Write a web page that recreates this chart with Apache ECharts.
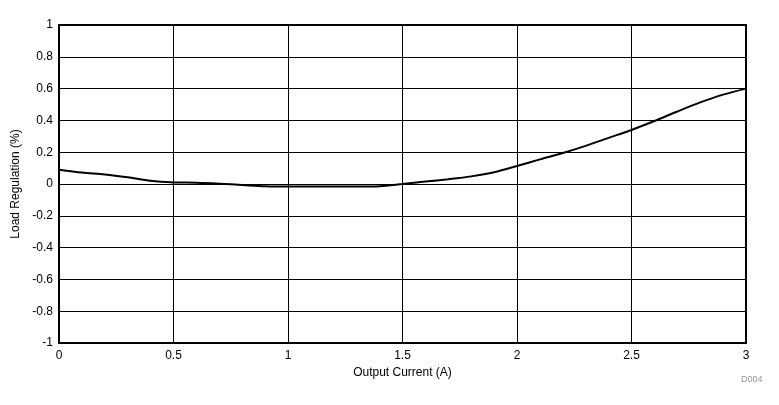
<!DOCTYPE html>
<html><head><meta charset="utf-8">
<script src="https://cdn.jsdelivr.net/npm/echarts@6/dist/echarts.min.js"></script>
<style>html,body{margin:0;padding:0;background:#fff}#c{width:779px;height:405px}</style>
</head><body><div id="c"></div>
<script>
const currentA = [0,0.1,0.2,0.3,0.4,0.5,0.6,0.7,0.8,0.9,1.0,1.1,1.2,1.3,1.4,1.5,1.6,1.7,1.8,1.9,2.0,2.1,2.2,2.3,2.4,2.5,2.6,2.7,2.8,2.9,3.0];
const regulation = [0.09,0.072,0.06,0.042,0.02,0.01,0.008,0.002,-0.006,-0.014,-0.016,-0.016,-0.016,-0.016,-0.014,0.0,0.015,0.03,0.048,0.074,0.113,0.155,0.195,0.24,0.29,0.34,0.396,0.456,0.513,0.562,0.6];
const xTitle = 'Output Current (A)';
const yTitle = 'Load Regulation (%)';
const note = 'D004';

const chart = echarts.init(document.getElementById('c'));
const font = 'Liberation Sans, Arial, sans-serif';
chart.setOption({
  animation:false,
  grid:{left:59,right:33,top:25,bottom:62,show:true,borderColor:'#000',borderWidth:2,backgroundColor:'transparent'},
  graphic:[{type:'text',left:741,top:375,style:{text:note,fill:'#999',font:'9px '+font}}],
  xAxis:{type:'value',min:0,max:3,interval:0.5,name:xTitle,nameLocation:'middle',nameGap:24,
    nameTextStyle:{color:'#000',fontFamily:font,fontSize:12},
    axisLine:{show:true,onZero:false,lineStyle:{color:'#000',width:2}},axisTick:{show:false},
    axisLabel:{color:'#000',fontFamily:font,fontSize:12,margin:7},
    splitLine:{show:true,lineStyle:{color:'#000',width:1}}},
  yAxis:{type:'value',min:-1,max:1,interval:0.2,name:yTitle,nameLocation:'middle',nameGap:31,
    nameTextStyle:{color:'#000',fontFamily:font,fontSize:12},
    axisLine:{show:true,onZero:false,lineStyle:{color:'#000',width:2}},axisTick:{show:false},
    axisLabel:{color:'#000',fontFamily:font,fontSize:12,margin:6,formatter:v=>String(+v.toFixed(1))},
    splitLine:{show:true,lineStyle:{color:'#000',width:1}}},
  series:[{type:'line',data:currentA.map((x,i)=>[x,regulation[i]]),showSymbol:false,smooth:0.3,
    lineStyle:{color:'#000',width:2}}]
});
</script></body></html>
